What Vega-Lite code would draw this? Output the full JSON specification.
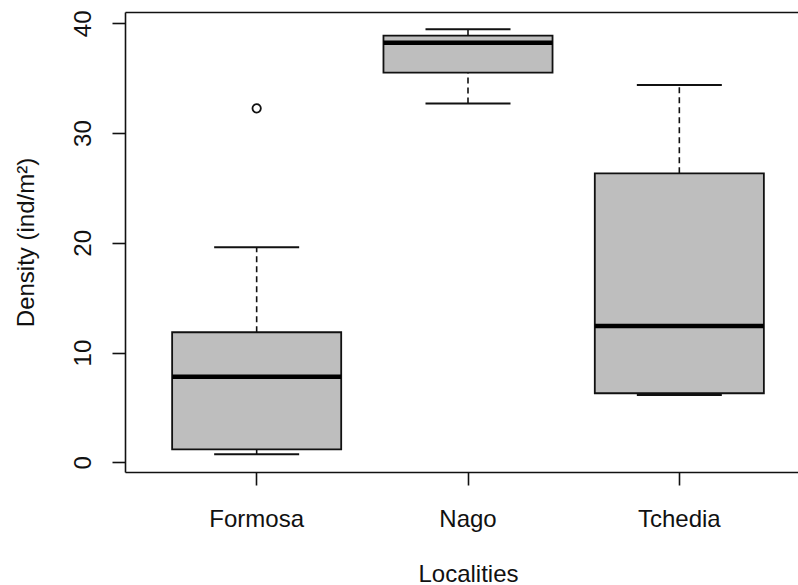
{
  "$schema": "https://vega.github.io/schema/vega-lite/v6.json",
  "autosize": "none",
  "width": 673,
  "height": 460,
  "padding": {"left": 125, "top": 12, "right": 0, "bottom": 113},
  "background": "white",
  "view": {"stroke": null},
  "config": {
    "font": "Liberation Sans",
    "axis": {
      "labelFont": "Liberation Sans",
      "titleFont": "Liberation Sans",
      "labelFontSize": 24,
      "titleFontSize": 24,
      "labelColor": "#111111",
      "titleColor": "#111111",
      "titleFontWeight": "normal",
      "domainColor": "#111111",
      "tickColor": "#111111",
      "domainWidth": 1.6,
      "tickWidth": 1.6,
      "grid": false
    }
  },
  "datasets": {
    "boxes": [
      {"loc": "Formosa", "lower": 0.73, "q1": 1.18, "median": 7.8, "q3": 11.85, "upper": 19.6},
      {"loc": "Nago", "lower": 32.7, "q1": 35.5, "median": 38.23, "q3": 38.87, "upper": 39.45},
      {"loc": "Tchedia", "lower": 6.13, "q1": 6.29, "median": 12.42, "q3": 26.33, "upper": 34.38}
    ],
    "outliers": [
      {"loc": "Formosa", "value": 32.25}
    ]
  },
  "data": {"name": "boxes"},
  "resolve": {"axis": {"x": "independent"}},
  "layer": [
    {
      "mark": {"type": "rule", "strokeDash": [6, 4], "strokeWidth": 1.6, "color": "#111111"},
      "encoding": {
        "x": {"field": "loc", "type": "nominal", "sort": ["Formosa", "Nago", "Tchedia"], "scale": {"range": [0, 686], "paddingInner": 0.2, "paddingOuter": 0.223}, "axis": null},
        "y": {"field": "lower", "type": "quantitative", "scale": {"domain": [-0.884, 41.03], "nice": false, "zero": false},
          "axis": {"values": [0, 10, 20, 30, 40], "tickSize": 13, "labelFontSize": 24, "labelAngle": -90, "labelAlign": "center", "labelBaseline": "alphabetic", "labelPadding": 22, "labelFlush": false, "labelOverlap": false, "title": "Density (ind/m²)", "titleFontSize": 24, "titleAngle": -90, "titleAlign": "center", "titleBaseline": "alphabetic", "titleX": -92, "titleY": 230, "domain": true}},
        "y2": {"field": "q1"}
      }
    },
    {
      "mark": {"type": "rule", "strokeDash": [6, 4], "strokeWidth": 1.6, "color": "#111111"},
      "encoding": {
        "x": {"field": "loc", "type": "nominal", "sort": ["Formosa", "Nago", "Tchedia"], "scale": {"range": [0, 686], "paddingInner": 0.2, "paddingOuter": 0.223}, "axis": null},
        "y": {"field": "q3", "type": "quantitative", "scale": {"domain": [-0.884, 41.03], "nice": false, "zero": false},
          "axis": {"values": [0, 10, 20, 30, 40], "tickSize": 13, "labelFontSize": 24, "labelAngle": -90, "labelAlign": "center", "labelBaseline": "alphabetic", "labelPadding": 22, "labelFlush": false, "labelOverlap": false, "title": "Density (ind/m²)", "titleFontSize": 24, "titleAngle": -90, "titleAlign": "center", "titleBaseline": "alphabetic", "titleX": -92, "titleY": 230, "domain": true}},
        "y2": {"field": "upper"}
      }
    },
    {
      "mark": {"type": "tick", "size": 85, "thickness": 2, "color": "#111111", "opacity": 1},
      "encoding": {
        "x": {"field": "loc", "type": "nominal", "sort": ["Formosa", "Nago", "Tchedia"], "scale": {"range": [0, 686], "paddingInner": 0.2, "paddingOuter": 0.223}, "axis": null},
        "y": {"field": "lower", "type": "quantitative", "scale": {"domain": [-0.884, 41.03], "nice": false, "zero": false},
          "axis": {"values": [0, 10, 20, 30, 40], "tickSize": 13, "labelFontSize": 24, "labelAngle": -90, "labelAlign": "center", "labelBaseline": "alphabetic", "labelPadding": 22, "labelFlush": false, "labelOverlap": false, "title": "Density (ind/m²)", "titleFontSize": 24, "titleAngle": -90, "titleAlign": "center", "titleBaseline": "alphabetic", "titleX": -92, "titleY": 230, "domain": true}}
      }
    },
    {
      "mark": {"type": "tick", "size": 85, "thickness": 2, "color": "#111111", "opacity": 1},
      "encoding": {
        "x": {"field": "loc", "type": "nominal", "sort": ["Formosa", "Nago", "Tchedia"], "scale": {"range": [0, 686], "paddingInner": 0.2, "paddingOuter": 0.223}, "axis": null},
        "y": {"field": "upper", "type": "quantitative", "scale": {"domain": [-0.884, 41.03], "nice": false, "zero": false},
          "axis": {"values": [0, 10, 20, 30, 40], "tickSize": 13, "labelFontSize": 24, "labelAngle": -90, "labelAlign": "center", "labelBaseline": "alphabetic", "labelPadding": 22, "labelFlush": false, "labelOverlap": false, "title": "Density (ind/m²)", "titleFontSize": 24, "titleAngle": -90, "titleAlign": "center", "titleBaseline": "alphabetic", "titleX": -92, "titleY": 230, "domain": true}}
      }
    },
    {
      "mark": {"type": "bar", "fill": "#bebebe", "stroke": "#111111", "strokeWidth": 1.8, "opacity": 1},
      "encoding": {
        "x": {
          "field": "loc", "type": "nominal", "sort": ["Formosa", "Nago", "Tchedia"],
          "scale": {"range": [0, 686], "paddingInner": 0.2, "paddingOuter": 0.223},
          "axis": {"orient": "bottom", "labelAngle": 0, "tickSize": 13, "labelPadding": 41, "labelBaseline": "alphabetic", "title": "Localities", "titleX": 343, "titleY": 109, "titleBaseline": "alphabetic", "domain": true}
        },
        "y": {"field": "q1", "type": "quantitative", "scale": {"domain": [-0.884, 41.03], "nice": false, "zero": false},
          "axis": {"values": [0, 10, 20, 30, 40], "tickSize": 13, "labelFontSize": 24, "labelAngle": -90, "labelAlign": "center", "labelBaseline": "alphabetic", "labelPadding": 22, "labelFlush": false, "labelOverlap": false, "title": "Density (ind/m²)", "titleFontSize": 24, "titleAngle": -90, "titleAlign": "center", "titleBaseline": "alphabetic", "titleX": -92, "titleY": 230, "domain": true}},
        "y2": {"field": "q3"}
      }
    },
    {
      "mark": {"type": "tick", "size": 169, "thickness": 4.5, "color": "#000000", "opacity": 1},
      "encoding": {
        "x": {
          "field": "loc", "type": "nominal", "sort": ["Formosa", "Nago", "Tchedia"],
          "scale": {"range": [0, 686], "paddingInner": 0.2, "paddingOuter": 0.223},
          "axis": {"orient": "top", "labels": false, "ticks": false, "domain": true, "title": null}
        },
        "y": {"field": "median", "type": "quantitative", "scale": {"domain": [-0.884, 41.03], "nice": false, "zero": false},
          "axis": {"values": [0, 10, 20, 30, 40], "tickSize": 13, "labelFontSize": 24, "labelAngle": -90, "labelAlign": "center", "labelBaseline": "alphabetic", "labelPadding": 22, "labelFlush": false, "labelOverlap": false, "title": "Density (ind/m²)", "titleFontSize": 24, "titleAngle": -90, "titleAlign": "center", "titleBaseline": "alphabetic", "titleX": -92, "titleY": 230, "domain": true}}
      }
    },
    {
      "data": {"name": "outliers"},
      "mark": {"type": "point", "shape": "circle", "size": 70, "filled": false, "stroke": "#111111", "strokeWidth": 1.8, "opacity": 1},
      "encoding": {
        "x": {"field": "loc", "type": "nominal", "sort": ["Formosa", "Nago", "Tchedia"], "scale": {"range": [0, 686], "paddingInner": 0.2, "paddingOuter": 0.223}, "axis": null},
        "y": {"field": "value", "type": "quantitative", "scale": {"domain": [-0.884, 41.03], "nice": false, "zero": false},
          "axis": {"values": [0, 10, 20, 30, 40], "tickSize": 13, "labelFontSize": 24, "labelAngle": -90, "labelAlign": "center", "labelBaseline": "alphabetic", "labelPadding": 22, "labelFlush": false, "labelOverlap": false, "title": "Density (ind/m²)", "titleFontSize": 24, "titleAngle": -90, "titleAlign": "center", "titleBaseline": "alphabetic", "titleX": -92, "titleY": 230, "domain": true}}
      }
    }
  ]
}
